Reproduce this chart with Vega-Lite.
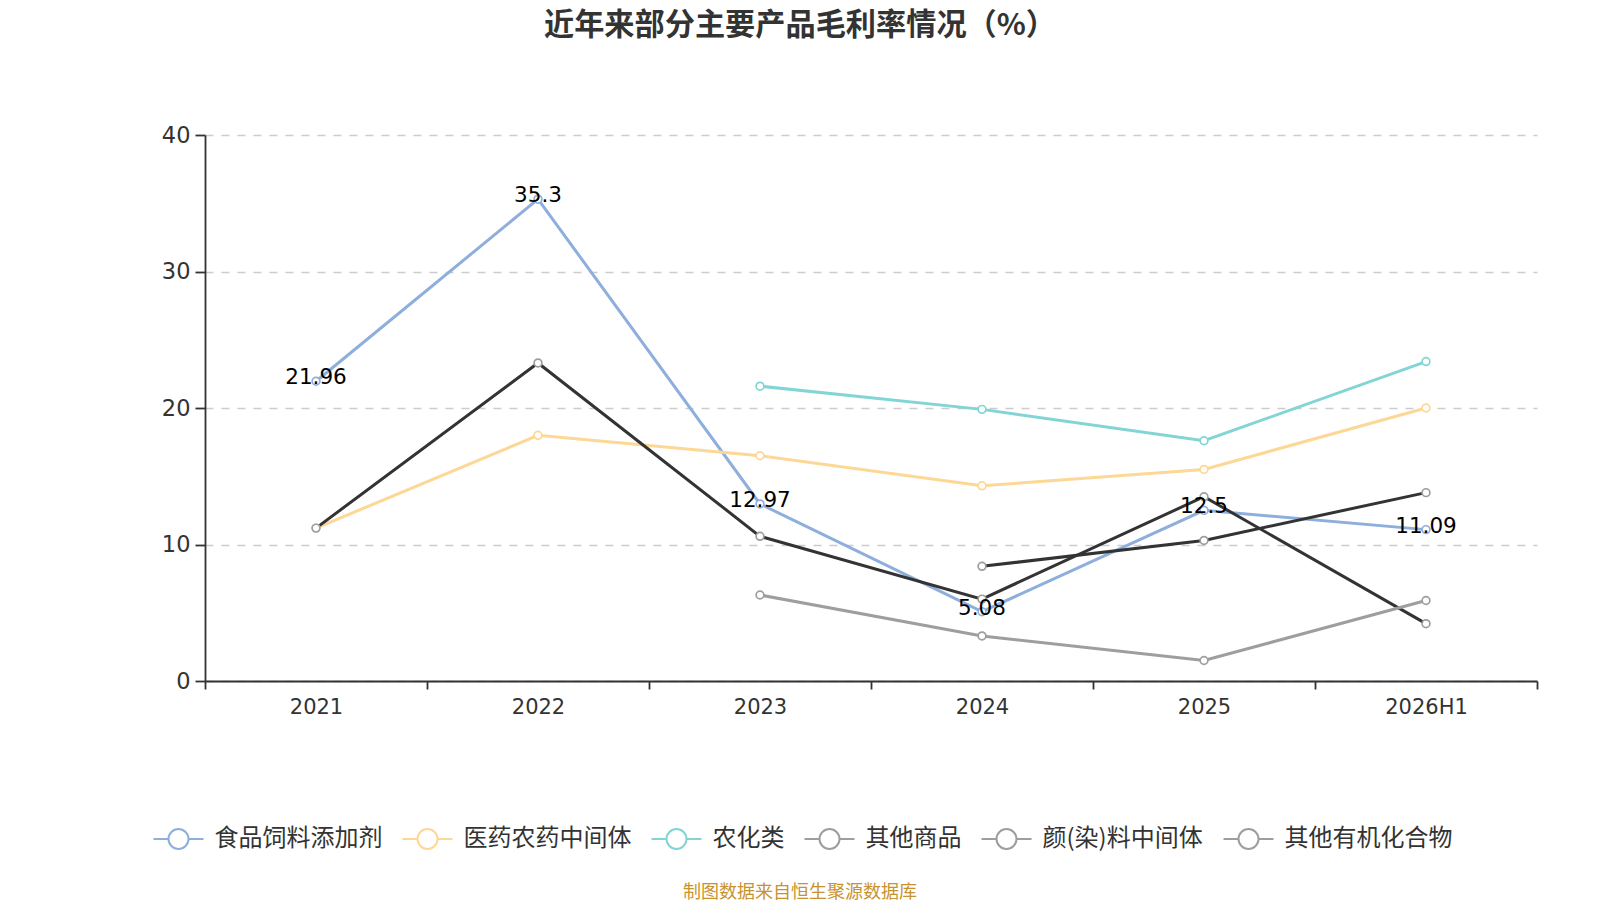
{
  "$schema": "https://vega.github.io/schema/vega-lite/v6.json",
  "background": "white",
  "padding": {"left": 152, "top": 10, "right": 63, "bottom": 0},
  "title": {
    "text": "制图数据来自恒生聚源数据库",
    "orient": "bottom",
    "anchor": "middle",
    "frame": "group",
    "dx": -71,
    "offset": 31,
    "font": "Noto Sans CJK SC",
    "fontSize": 18,
    "fontWeight": "normal",
    "color": "#c8922e"
  },
  "vconcat": [
    {
      "width": 1332,
      "height": 546,
      "title": {
        "text": "近年来部分主要产品毛利率情况（%）",
        "anchor": "middle",
        "frame": "group",
        "dx": -71,
        "offset": 83,
        "font": "Noto Sans CJK SC",
        "fontSize": 30.2,
        "fontWeight": "bold",
        "color": "#333333"
      },
      "data": {
        "values": [
          {"year": "2021", "series": "食品饲料添加剂", "value": 21.96},
          {"year": "2022", "series": "食品饲料添加剂", "value": 35.3},
          {"year": "2023", "series": "食品饲料添加剂", "value": 12.97},
          {"year": "2024", "series": "食品饲料添加剂", "value": 5.08},
          {"year": "2025", "series": "食品饲料添加剂", "value": 12.5},
          {"year": "2026H1", "series": "食品饲料添加剂", "value": 11.09},
          {"year": "2021", "series": "医药农药中间体", "value": 11.2},
          {"year": "2022", "series": "医药农药中间体", "value": 18.0},
          {"year": "2023", "series": "医药农药中间体", "value": 16.5},
          {"year": "2024", "series": "医药农药中间体", "value": 14.3},
          {"year": "2025", "series": "医药农药中间体", "value": 15.5},
          {"year": "2026H1", "series": "医药农药中间体", "value": 20.0},
          {"year": "2023", "series": "农化类", "value": 21.6},
          {"year": "2024", "series": "农化类", "value": 19.9},
          {"year": "2025", "series": "农化类", "value": 17.6},
          {"year": "2026H1", "series": "农化类", "value": 23.4},
          {"year": "2021", "series": "其他商品", "value": 11.2},
          {"year": "2022", "series": "其他商品", "value": 23.3},
          {"year": "2023", "series": "其他商品", "value": 10.6},
          {"year": "2024", "series": "其他商品", "value": 6.0},
          {"year": "2025", "series": "其他商品", "value": 13.5},
          {"year": "2026H1", "series": "其他商品", "value": 4.2},
          {"year": "2024", "series": "颜(染)料中间体", "value": 8.4},
          {"year": "2025", "series": "颜(染)料中间体", "value": 10.3},
          {"year": "2026H1", "series": "颜(染)料中间体", "value": 13.8},
          {"year": "2023", "series": "其他有机化合物", "value": 6.3},
          {"year": "2024", "series": "其他有机化合物", "value": 3.3},
          {"year": "2025", "series": "其他有机化合物", "value": 1.5},
          {"year": "2026H1", "series": "其他有机化合物", "value": 5.9}
        ]
      },
      "encoding": {
        "x": {
          "field": "year",
          "type": "ordinal",
          "title": null,
          "scale": {"type": "band", "paddingInner": 0, "paddingOuter": 0},
          "axis": {
            "labelAngle": 0,
            "tickBand": "extent",
            "grid": false,
            "domainColor": "#333333",
            "domainWidth": 1.8,
            "tickColor": "#333333",
            "tickWidth": 1.8,
            "tickSize": 8,
            "labelFont": "DejaVu Sans",
            "labelFontSize": 21,
            "labelColor": "#333333",
            "labelPadding": 7.5
          }
        },
        "y": {
          "field": "value",
          "type": "quantitative",
          "title": null,
          "scale": {"domain": [0, 40], "nice": false},
          "axis": {
            "values": [0, 10, 20, 30, 40],
            "grid": true,
            "gridColor": "#cccccc",
            "gridDash": [8, 8],
            "gridWidth": 1.3,
            "domainColor": "#333333",
            "domainWidth": 1.8,
            "tickColor": "#333333",
            "tickWidth": 1.8,
            "tickSize": 10,
            "labelFont": "DejaVu Sans",
            "labelFontSize": 22.5,
            "labelColor": "#333333",
            "labelPadding": 5
          }
        }
      },
      "layer": [
        {
          "mark": {"type": "line", "strokeWidth": 3},
          "encoding": {
            "color": {
              "field": "series",
              "type": "nominal",
              "sort": ["食品饲料添加剂", "医药农药中间体", "农化类", "其他商品", "颜(染)料中间体", "其他有机化合物"],
              "scale": {
                "range": ["#8eaedc", "#fdd795", "#83d5d5", "#333333", "#333333", "#9e9e9e"]
              },
              "legend": null
            }
          }
        },
        {
          "mark": {"type": "point", "filled": true, "fill": "white", "size": 60, "strokeWidth": 1.7, "opacity": 1},
          "encoding": {
            "stroke": {
              "field": "series",
              "type": "nominal",
              "scale": {
                "domain": ["食品饲料添加剂", "医药农药中间体", "农化类", "其他商品", "颜(染)料中间体", "其他有机化合物"],
                "range": ["#8eaedc", "#fdd795", "#83d5d5", "#9e9e9e", "#9e9e9e", "#9e9e9e"]
              },
              "legend": {
                "title": null,
                "orient": "none",
                "legendX": -52.5,
                "legendY": 678,
                "direction": "horizontal",
                "columns": 6,
                "columnPadding": 16,
                "symbolType": "M-1,0L-0.4,0M0.4,0L1,0M0.4,0A0.4,0.4,0,1,1,-0.4,0A0.4,0.4,0,1,1,0.4,0",
                "symbolSize": 2500,
                "symbolStrokeWidth": 2,
                "symbolFillColor": "white",
                "labelFont": "Noto Sans CJK SC",
                "labelFontSize": 24,
                "labelColor": "#333333",
                "labelOffset": 10,
                "labelLimit": 400
              }
            }
          }
        },
        {
          "transform": [{"filter": "datum.series === '食品饲料添加剂'"}],
          "mark": {"type": "text", "font": "DejaVu Sans", "fontSize": 21.5, "color": "#000000", "baseline": "middle", "dy": -3},
          "encoding": {"text": {"field": "value", "type": "quantitative"}}
        }
      ]
    }
  ],
  "config": {
    "view": {"stroke": null}
  }
}
